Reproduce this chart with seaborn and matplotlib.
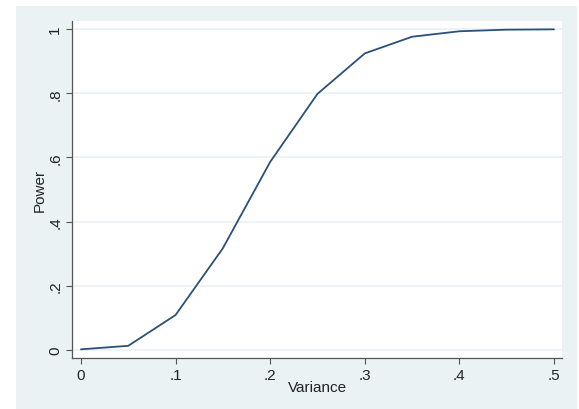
import matplotlib
matplotlib.use("Agg")
import matplotlib.pyplot as plt
import seaborn as sns
import pandas as pd
from matplotlib.patches import Rectangle

variance = [0.0, 0.05, 0.10, 0.15, 0.20, 0.25, 0.30, 0.35, 0.40, 0.45, 0.50]
power = [0.002, 0.013, 0.109, 0.317, 0.586, 0.798, 0.924, 0.976, 0.993, 0.998, 0.999]
xtick_vals = [0, 0.1, 0.2, 0.3, 0.4, 0.5]
xtick_labels = ["0", ".1", ".2", ".3", ".4", ".5"]
ytick_vals = [0, 0.2, 0.4, 0.6, 0.8, 1.0]
ytick_labels = ["0", ".2", ".4", ".6", ".8", "1"]

df = pd.DataFrame({"Variance": variance, "Power": power})

sns.set_theme(style="white")
plt.rcParams["font.family"] = ["Liberation Sans", "DejaVu Sans"]

W, H = 579, 410
fig = plt.figure(figsize=(W / 100, H / 100), dpi=100)
fig.patch.set_facecolor("white")
bg = "#eaf2f3"
fig.patches.append(Rectangle((16 / W, 0), (577 - 16) / W, (410 - 7) / H,
                             transform=fig.transFigure, facecolor=bg,
                             edgecolor="none", zorder=-10))

ax = fig.add_axes([72 / W, 1 - 359 / H, (562 - 72) / W, (359 - 22) / H])
ax.set_facecolor("white")

for y in ytick_vals:
    ax.axhline(y, color=bg, lw=1.2, zorder=0)

sns.lineplot(data=df, x="Variance", y="Power", ax=ax, color="#2a5178", lw=1.3)

ax.set_xlim(-0.0095, 0.5085)
ax.set_ylim(-0.025, 1.025)
ax.set_xticks(xtick_vals)
ax.set_xticklabels(xtick_labels, fontsize=11)
ax.set_yticks(ytick_vals)
ax.set_yticklabels(ytick_labels, fontsize=11, rotation=90, va="center")
ax.tick_params(axis="both", direction="out", length=4, width=0.8,
               color="#555555", labelcolor="#222222", pad=3)
ax.tick_params(left=True, bottom=True)
for s in ["top", "right"]:
    ax.spines[s].set_visible(False)
for s in ["left", "bottom"]:
    ax.spines[s].set_color("#555555")
    ax.spines[s].set_linewidth(0.9)

ax.set_xlabel("Variance", fontsize=11, color="#222222", labelpad=-1)
ax.set_ylabel("Power", fontsize=11, color="#222222", labelpad=1)

fig.savefig("out.png", dpi=100)
